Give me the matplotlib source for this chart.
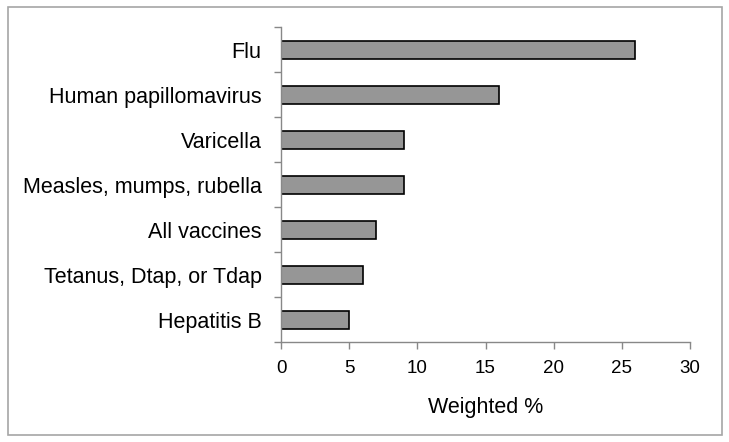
import numpy as np
import matplotlib.pyplot as plt
from matplotlib.patches import Rectangle

categories = ['Flu', 'Human papillomavirus', 'Varicella', 'Measles, mumps, rubella',
              'All vaccines', 'Tetanus, Dtap, or Tdap', 'Hepatitis B']
values = [26, 16, 9, 9, 7, 6, 5]
xticks = [0, 5, 10, 15, 20, 25, 30]

plt.rcParams['font.family'] = ['Liberation Sans', 'DejaVu Sans']

fig = plt.figure(figsize=(7.29, 4.42), dpi=100)
fig.patches.append(Rectangle((0.011, 0.016), 0.979, 0.968, transform=fig.transFigure,
                             fill=False, edgecolor='#a6a6a6', linewidth=1.2))
ax = fig.add_axes([0.3855, 0.2262, 0.561, 0.7127])

y = np.arange(len(categories))
ax.barh(y, values, height=0.4, color='#969696', edgecolor='black', linewidth=1.2)
ax.set_ylim(len(categories) - 0.5, -0.5)
ax.set_xlim(0, 30)
ax.set_xticks(xticks)
ax.set_xticklabels([str(t) for t in xticks], fontsize=13.5)
ax.set_yticks(y)
ax.set_yticklabels(categories, fontsize=15.5)
ax.set_yticks(np.arange(len(categories) + 1) - 0.5, minor=True)
ax.tick_params(axis='y', which='major', length=0, pad=14)
ax.tick_params(axis='y', which='minor', length=5, color='#888888', width=1)
ax.tick_params(axis='x', length=5, color='#888888', width=1, pad=8)
ax.set_xlabel('Weighted %', fontsize=15.5, labelpad=14)

for s in ['top', 'right']:
    ax.spines[s].set_visible(False)
for s in ['left', 'bottom']:
    ax.spines[s].set_color('#888888')
    ax.spines[s].set_linewidth(1)

fig.savefig('out.png', dpi=100)
